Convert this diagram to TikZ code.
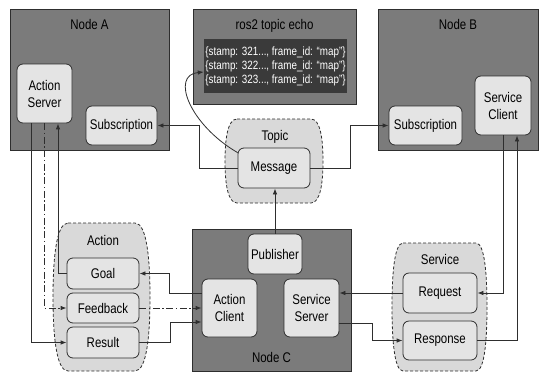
\documentclass[tikz,border=0pt]{standalone}
\usepackage{fontspec}
\usetikzlibrary{arrows.meta,calc}
\newfontfamily\labfont[FakeStretch=0.82]{Liberation Sans}
\definecolor{nodegray}{HTML}{7B7B7B}
\definecolor{boxgray}{HTML}{E4E4E4}
\definecolor{cloudgray}{HTML}{D9D9D9}
\definecolor{termgray}{HTML}{3A3A3A}
\definecolor{linegray}{HTML}{2E2E2E}

% barrel-shaped dashed group: left, top, right, bottom, corner inset
\newcommand{\drawbarrel}[5]{%
  \path[cloud]
    ({#1+#5},#2) -- ({#3-#5},#2)
    .. controls ({#3-0.2*#5},#2) and (#3,{#2+0.25*(#4-#2)}) .. (#3,{0.5*(#2+#4)})
    .. controls (#3,{#4-0.25*(#4-#2)}) and ({#3-0.2*#5},#4) .. ({#3-#5},#4)
    -- ({#1+#5},#4)
    .. controls ({#1+0.2*#5},#4) and (#1,{#4-0.25*(#4-#2)}) .. (#1,{0.5*(#2+#4)})
    .. controls (#1,{#2+0.25*(#4-#2)}) and ({#1+0.2*#5},#2) .. cycle;}

\begin{document}
\begin{tikzpicture}[x=1pt,y=-1pt,
  sz/.style 2 args={minimum width=#1pt, minimum height=#2pt},
  rosnode/.style={draw=linegray, fill=nodegray, line width=0.9pt, inner sep=0pt},
  box/.style={draw=linegray, fill=boxgray, line width=0.8pt, rounded corners=6pt,
    inner sep=0pt, align=center, font=\labfont\fontsize{14}{17}\selectfont},
  title/.style={anchor=base, inner sep=0pt, font=\labfont\fontsize{14}{17}\selectfont},
  cloud/.style={draw=linegray, fill=cloudgray, line width=0.8pt, dash pattern=on 3pt off 2pt},
  term/.style={fill=termgray, inner sep=0pt, text=white, align=left,
    font=\labfont\fontsize{12}{14}\selectfont},
  arr/.style={draw=linegray, line width=0.8pt, -{Latex[length=6pt,width=4.5pt]}},
  dashdot/.style={dash pattern=on 7pt off 2.5pt on 1.5pt off 2.5pt}]
\useasboundingbox (0,0) rectangle (545,372);

% ROS nodes and echo window
\node[rosnode, sz={159}{141}] (NodeA) at (89.5,79.5) {};
\node[title] (NodeAlabel) at (89.5,29) {Node A};
\node[rosnode, sz={163}{95}] (Echo) at (274.5,56.5) {};
\node[title] (Echolabel) at (274.5,29) {ros2 topic echo};
\node[term, sz={143}{54}] (term) at (275.5,66)
  {\{stamp: 321..., frame\_id: “map”\}\\\{stamp: 322..., frame\_id: “map”\}\\\{stamp: 323..., frame\_id: “map”\}};
\node[rosnode, sz={160}{141}] (NodeB) at (458,79.5) {};
\node[title] (NodeBlabel) at (458,29) {Node B};
\node[rosnode, sz={159}{142}] (NodeC) at (271.5,300) {};
\node[title] (NodeClabel) at (271.5,362) {Node C};

% communication groups
\drawbarrel{225}{119}{323}{203}{12}
\node[title] (Topiclabel) at (275,140) {Topic};
\drawbarrel{53}{223}{150}{371}{15}
\node[title] (Actionlabel) at (103,245) {Action};
\drawbarrel{392}{243}{487}{371}{11}
\node[title] (Servicelabel) at (440,264) {Service};

% endpoints
\node[box, sz={55}{59}] (ActionServer) at (44.5,93.5) {Action\\Server};
\node[box, sz={71}{39}] (SubA) at (121.5,125.5) {Subscription};
\node[box, sz={73}{39}] (SubB) at (425.5,125.5) {Subscription};
\node[box, sz={56}{59}] (ServiceClient) at (503,105.5) {Service\\Client};
\node[box, sz={72}{40}] (Message) at (274,168) {Message};
\node[box, sz={54}{40}] (Publisher) at (275,254) {Publisher};
\node[box, sz={55}{58}] (ActionClient) at (229.5,308) {Action\\Client};
\node[box, sz={55}{58}] (ServiceServer) at (311.5,308) {Service\\Server};
\node[box, sz={72}{31}] (Goal) at (103,273.5) {Goal};
\node[box, sz={72}{30}] (Feedback) at (103,308) {Feedback};
\node[box, sz={72}{31}] (Result) at (103,342.5) {Result};
\node[box, sz={74}{40}] (Request) at (440,293) {Request};
\node[box, sz={74}{39}] (Response) at (440,340.5) {Response};

% topic
\draw[arr] (Message.west) -- ++(-38,0) |- (SubA.east);
\draw[arr] (Message.east) -- ++(40,0) |- (SubB.west);
\draw[arr] (Publisher.north) -- (Publisher.north |- Message.south);
\coordinate (echostart) at ($(Message.north west)+(0,5)$);
\draw[arr] (echostart) .. controls (190,125) and (170,75) .. ([yshift=-6pt]term.west);

% action
\draw[arr] ([xshift=-13.5pt]ActionServer.south) |- (Result.west);
\draw[arr, dashdot] (ActionServer.south) |- (Feedback.west);
\draw[arr] (Goal.west) -| ([xshift=13.5pt]ActionServer.south);
\draw[arr] ([yshift=15pt]ActionClient.west) -- ++(-32,0) |- (Goal.east);
\draw[arr, dashdot] (Feedback.east) -- (ActionClient.west);
\draw[arr] (Result.east) -- ++(31,0) |- ([yshift=-14pt]ActionClient.west);

% service
\draw[arr] (ServiceClient.south) |- (Request.east);
\draw[arr] (Response.east) -| ([xshift=14pt]ServiceClient.south);
\draw[arr] (Request.west) -- (Request.west -| ServiceServer.east);
\draw[arr] ([yshift=-15pt]ServiceServer.east) -- ++(33,0) |- (Response.west);
\end{tikzpicture}
\end{document}
